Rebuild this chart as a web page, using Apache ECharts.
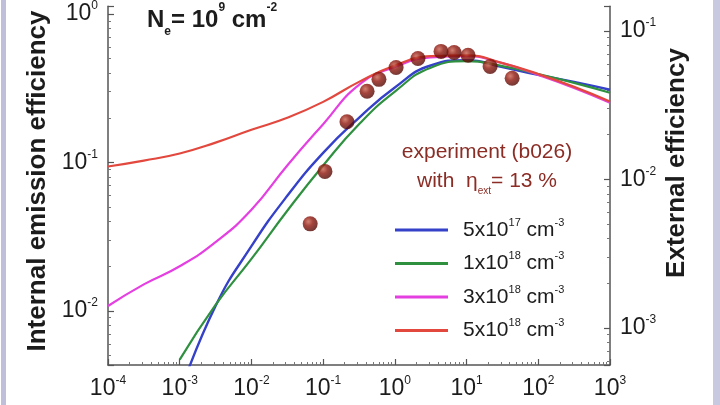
<!DOCTYPE html>
<html>
<head>
<meta charset="utf-8">
<script src="https://cdn.jsdelivr.net/npm/echarts@6/dist/echarts.min.js"></script>
<style>
  html, body { margin: 0; padding: 0; background: #fff; }
  #chart { width: 720px; height: 405px; }
</style>
</head>
<body>
<div id="chart"></div>
<script>
(function () {
  'use strict';

  // excitation (x), sampled every half decade
  const excitation = [1e-4, 3.16e-4, 1e-3, 3.16e-3, 1e-2, 3.16e-2, 1e-1, 3.16e-1, 1, 3.16, 10, 31.6, 100, 316, 1000];
  const excitationFrom1e3 = excitation.slice(2);

  // internal emission efficiency, one list per doping level
  const eff5e17 = [0.0028, 0.0108, 0.0273, 0.0596, 0.116, 0.2, 0.32, 0.45, 0.489, 0.439, 0.389, 0.349, 0.309];
  const eff1e18 = [0.0047, 0.011, 0.0224, 0.0473, 0.0955, 0.181, 0.30, 0.435, 0.481, 0.446, 0.394, 0.344, 0.295];
  const eff3e18 = [0.0108, 0.0151, 0.02, 0.0291, 0.048, 0.0955, 0.181, 0.333, 0.44, 0.51, 0.52, 0.467, 0.389, 0.318, 0.253];
  const eff5e18 = [0.094, 0.103, 0.115, 0.136, 0.166, 0.20, 0.256, 0.349, 0.45, 0.52, 0.527, 0.467, 0.394, 0.323, 0.257];

  // experiment (b026)
  const expX = [0.066, 0.106, 0.215, 0.41, 0.60, 1.04, 2.1, 4.4, 6.7, 10.5, 21.3, 43.2];
  const expY = [0.0386, 0.0871, 0.188, 0.302, 0.363, 0.436, 0.501, 0.56, 0.55, 0.527, 0.443, 0.369];

  const dopingLabels = ['5x10^17', '1x10^18', '3x10^18', '5x10^18'];
  const extraction = 0.13; // external = internal * 13 %

  const xMin = 1e-4, xMax = 1e3;
  const yMin = Math.pow(10, -2.364), yMax = Math.pow(10, 0.053);

  const FONT = "'Liberation Sans', Arial, sans-serif";
  const INK = '#1c1c1c';
  const MAROON = '#8b2c25';

  function pairs(xs, ys) { return ys.map((y, i) => [xs[i], y]); }

  const tickRich = {
    b: { fontFamily: FONT, fontSize: 23, color: INK, lineHeight: 28 },
    s: { fontFamily: FONT, fontSize: 12, color: INK, lineHeight: 16, verticalAlign: 'top' }
  };

  function powLabel(v) {
    const e = Math.log10(v);
    const n = Math.round(e);
    if (Math.abs(e - n) > 1e-6) return '';
    return '{b|10}{s|' + n + '}';
  }

  function logAxis(extra) {
    return Object.assign({
      type: 'log',
      logBase: 10,
      axisLine: { show: true, onZero: false, lineStyle: { color: '#555', width: 1.5 } },
      axisTick: { show: true, inside: true, length: 6, lineStyle: { color: '#555', width: 1.2 } },
      minorTick: { show: true, splitNumber: 9, length: 3, lineStyle: { color: '#777', width: 1 } },
      splitLine: { show: false },
      minorSplitLine: { show: false },
      axisLabel: { formatter: powLabel, rich: tickRich, margin: 10 }
    }, extra);
  }

  const chart = echarts.init(document.getElementById('chart'), null, { renderer: 'canvas' });

  const lineBase = {
    type: 'line',
    showSymbol: false,
    smooth: 0.5,
    clip: true,
    emphasis: { disabled: true }
  };

  chart.setOption({
    animation: false,
    backgroundColor: '#fff',
    grid: { left: 108, right: 110, top: 0, bottom: 40 },
    xAxis: logAxis({ min: xMin, max: xMax }),
    yAxis: [
      logAxis({ min: yMin, max: yMax, position: 'left' }),
      logAxis({ min: yMin * extraction, max: yMax * extraction, position: 'right' })
    ],
    legend: {
      data: dopingLabels,
      orient: 'vertical',
      left: 390,
      top: 212,
      itemWidth: 53,
      itemHeight: 3,
      itemGap: 10,
      icon: 'rect',
      selectedMode: false,
      formatter(name) {
        const [m, e] = name.split('^');
        return '{g|}{t|' + m + '}{p|' + e + '}{t| cm}{p|-3}';
      },
      textStyle: {
        rich: {
          g: { width: 10 },
          t: { fontFamily: FONT, fontSize: 21, color: INK, lineHeight: 26 },
          p: { fontFamily: FONT, fontSize: 11, color: INK, lineHeight: 16, verticalAlign: 'top' }
        }
      }
    },
    series: [
      Object.assign({ name: dopingLabels[0], data: pairs(excitationFrom1e3, eff5e17), color: '#3441c8', lineStyle: { width: 2.4 } }, lineBase),
      Object.assign({ name: dopingLabels[1], data: pairs(excitationFrom1e3, eff1e18), color: '#2f9140', lineStyle: { width: 2.2 } }, lineBase),
      Object.assign({ name: dopingLabels[2], data: pairs(excitation, eff3e18), color: '#e43fe0', lineStyle: { width: 2.2 } }, lineBase),
      Object.assign({ name: dopingLabels[3], data: pairs(excitation, eff5e18), color: '#e2483e', lineStyle: { width: 2.2 } }, lineBase),
      {
        name: 'experiment',
        type: 'scatter',
        data: pairs(expX, expY),
        symbolSize: 15,
        z: 5,
        emphasis: { disabled: true },
        itemStyle: {
          color: {
            type: 'radial', x: 0.38, y: 0.35, r: 0.65,
            colorStops: [
              { offset: 0, color: '#c8604e' },
              { offset: 0.45, color: '#8e160c' },
              { offset: 1, color: '#540803' }
            ]
          }
        }
      }
    ],
    graphic: [
      { type: 'rect', silent: true, shape: { x: 1, y: 0, width: 5, height: 405 }, style: { fill: '#bfbfda' } },
      { type: 'rect', silent: true, shape: { x: 713, y: 0, width: 7, height: 405 }, style: { fill: '#c8c8e0' } },
      {
        type: 'text', silent: true, x: 38, y: 181, rotation: Math.PI / 2,
        style: { text: 'Internal emission efficiency', font: 'bold 26px ' + FONT, fill: INK, textAlign: 'center', textVerticalAlign: 'middle' }
      },
      {
        type: 'text', silent: true, x: 677, y: 163, rotation: Math.PI / 2,
        style: { text: 'External efficiency', font: 'bold 26px ' + FONT, fill: INK, textAlign: 'center', textVerticalAlign: 'middle' }
      },
      {
        type: 'text', silent: true, x: 147, y: 2,
        style: {
          text: '{b|N}{sub|e}{b|= 10}{sup|9}{b| cm}{sup|-2}',
          textVerticalAlign: 'top',
          rich: {
            b: { fontFamily: FONT, fontWeight: 'bold', fontSize: 24, fill: INK, lineHeight: 36 },
            sub: { fontFamily: FONT, fontWeight: 'bold', fontSize: 12, fill: INK, lineHeight: 16, verticalAlign: 'bottom' },
            sup: { fontFamily: FONT, fontWeight: 'bold', fontSize: 12, fill: INK, lineHeight: 26, verticalAlign: 'top' }
          }
        }
      },
      {
        type: 'text', silent: true, x: 487, y: 152,
        style: { text: 'experiment (b026)', font: '21px ' + FONT, fill: MAROON, textAlign: 'center', textVerticalAlign: 'middle' }
      },
      {
        type: 'text', silent: true, x: 487, y: 181,
        style: {
          text: '{t|with  \u03b7}{s|ext}{t|= 13 %}',
          textAlign: 'center',
          textVerticalAlign: 'middle',
          rich: {
            t: { fontFamily: FONT, fontSize: 21, fill: MAROON, lineHeight: 30 },
            s: { fontFamily: FONT, fontSize: 10, fill: MAROON, lineHeight: 14, verticalAlign: 'bottom' }
          }
        }
      }
    ]
  });

  window.addEventListener('resize', () => chart.resize());
})();
</script>
</body>
</html>
